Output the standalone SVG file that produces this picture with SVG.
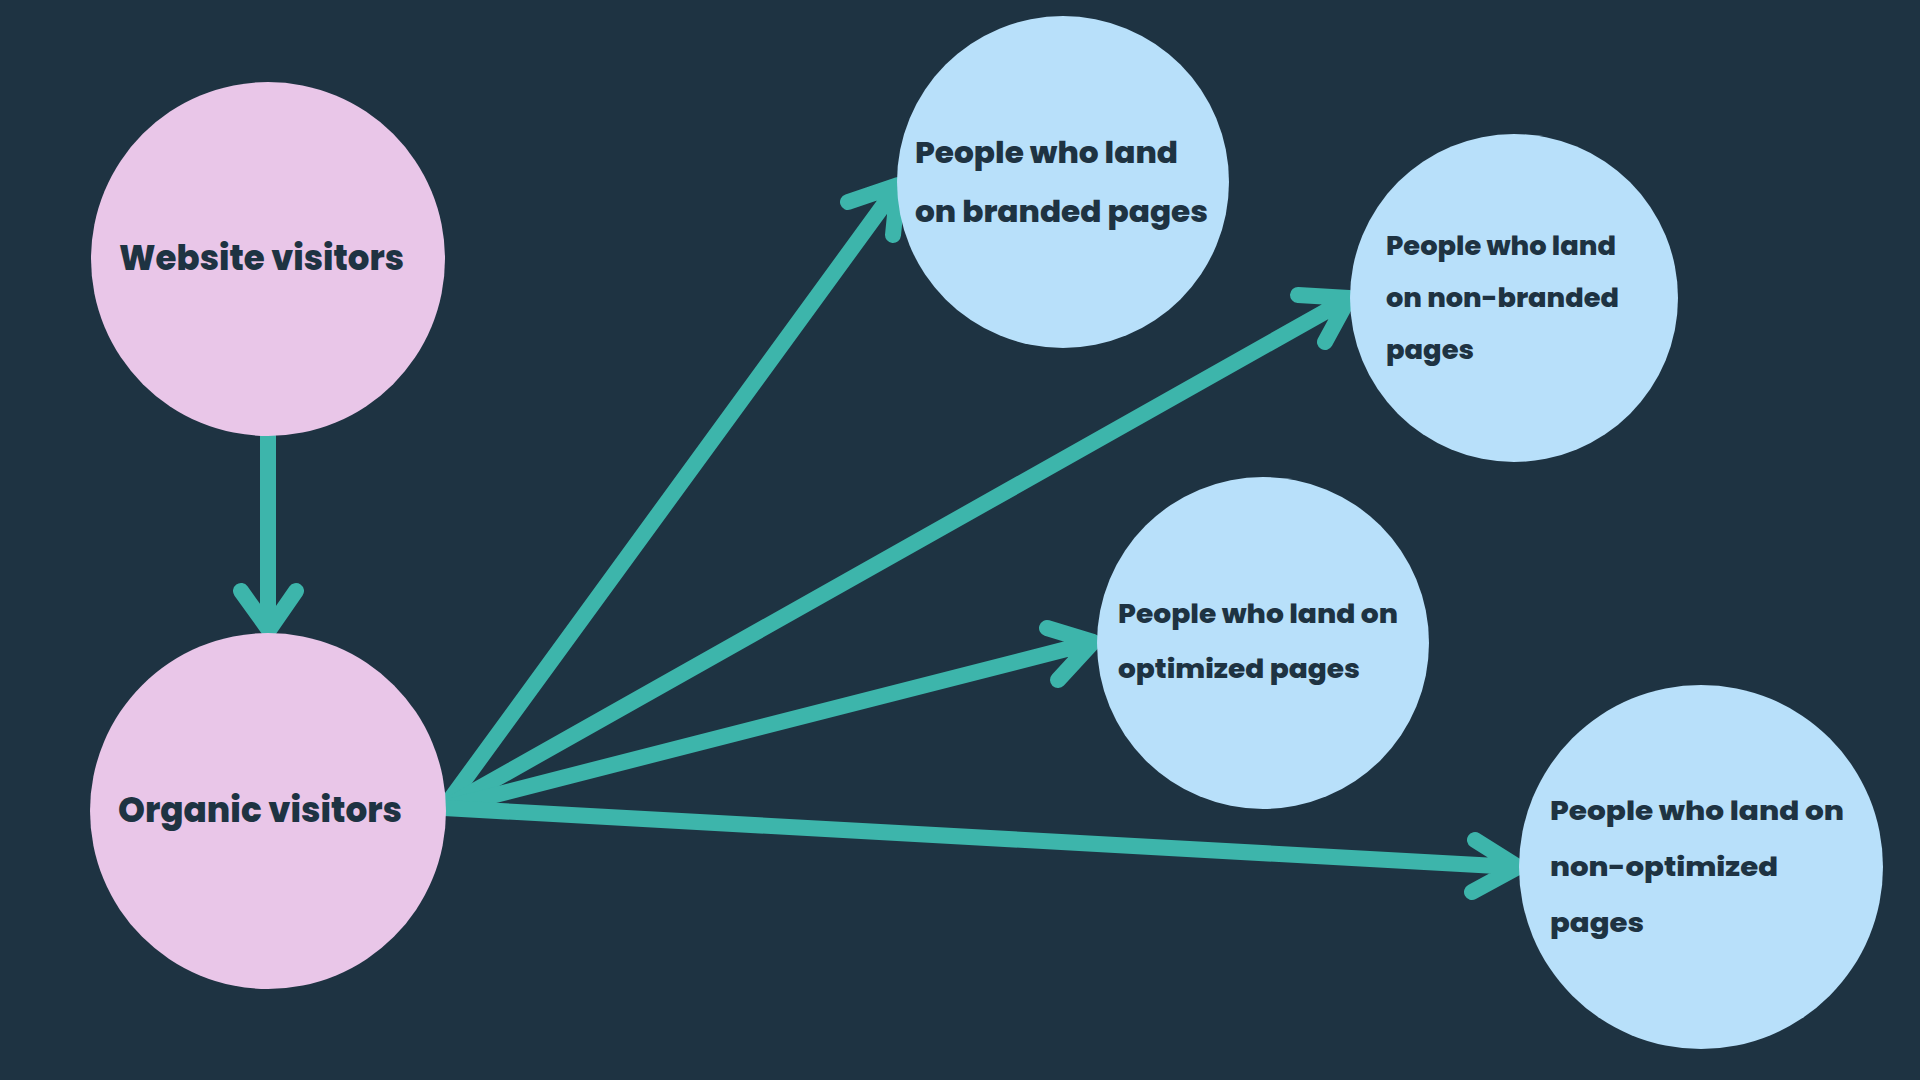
<svg xmlns="http://www.w3.org/2000/svg" width="1920" height="1080" viewBox="0 0 1920 1080">
<style>
.bg{fill:#1e3342}
.pink{fill:#e9c6e8}
.blue{fill:#b8e0fa}
.t{font-family:Poppins,Inter,"Open Sans","Liberation Sans",sans-serif;font-weight:800;fill:#1e3342}
.big{font-size:35px}
.mid{font-size:29px}
.sm{font-size:26px}
.c{fill:none;stroke:#3db5ab;stroke-width:16;stroke-linecap:round;stroke-linejoin:round}
</style>
<rect class="bg" x="0" y="0" width="1920" height="1080"/>
<g id="connectors">
<path class="c" d="M268 436 L268 628 M241 591 L269 630 L296 591"/>
<path class="c" d="M444 808 L896 188 M848 202 L898 185 L893 235"/>
<path class="c" d="M444 808 L1346 300 M1298 295 L1349 298 L1325 342"/>
<path class="c" d="M444 808 L1090 643 M1047 628 L1093 642 L1058 680"/>
<path class="c" d="M444 808 L1515 867 M1475 840 L1518 867 L1472 892"/>
</g>
<g id="website-visitors">
<circle class="pink" cx="268" cy="259" r="177"/>
<text class="t big" x="119" y="270" textLength="285" lengthAdjust="spacingAndGlyphs">Website visitors</text>
</g>
<g id="organic-visitors">
<circle class="pink" cx="268" cy="811" r="178"/>
<text class="t big" x="118" y="822" textLength="284" lengthAdjust="spacingAndGlyphs">Organic visitors</text>
</g>
<g id="branded">
<circle class="blue" cx="1063" cy="182" r="166"/>
<text class="t mid" x="915" y="163" textLength="263" lengthAdjust="spacingAndGlyphs">People who land</text>
<text class="t mid" x="915" y="222" textLength="293" lengthAdjust="spacingAndGlyphs">on branded pages</text>
</g>
<g id="non-branded">
<circle class="blue" cx="1514" cy="298" r="164"/>
<text class="t sm" x="1386" y="255" textLength="230" lengthAdjust="spacingAndGlyphs">People who land</text>
<text class="t sm" x="1386" y="307" textLength="233" lengthAdjust="spacingAndGlyphs">on non-branded</text>
<text class="t sm" x="1386" y="359" textLength="88" lengthAdjust="spacingAndGlyphs">pages</text>
</g>
<g id="optimized">
<circle class="blue" cx="1263" cy="643" r="166"/>
<text class="t sm" x="1118" y="623" textLength="280" lengthAdjust="spacingAndGlyphs">People who land on</text>
<text class="t sm" x="1118" y="678" textLength="242" lengthAdjust="spacingAndGlyphs">optimized pages</text>
</g>
<g id="non-optimized">
<circle class="blue" cx="1701" cy="867" r="182"/>
<text class="t sm" x="1550" y="820" textLength="294" lengthAdjust="spacingAndGlyphs">People who land on</text>
<text class="t sm" x="1550" y="876" textLength="228" lengthAdjust="spacingAndGlyphs">non-optimized</text>
<text class="t sm" x="1550" y="932" textLength="94" lengthAdjust="spacingAndGlyphs">pages</text>
</g>
</svg>
